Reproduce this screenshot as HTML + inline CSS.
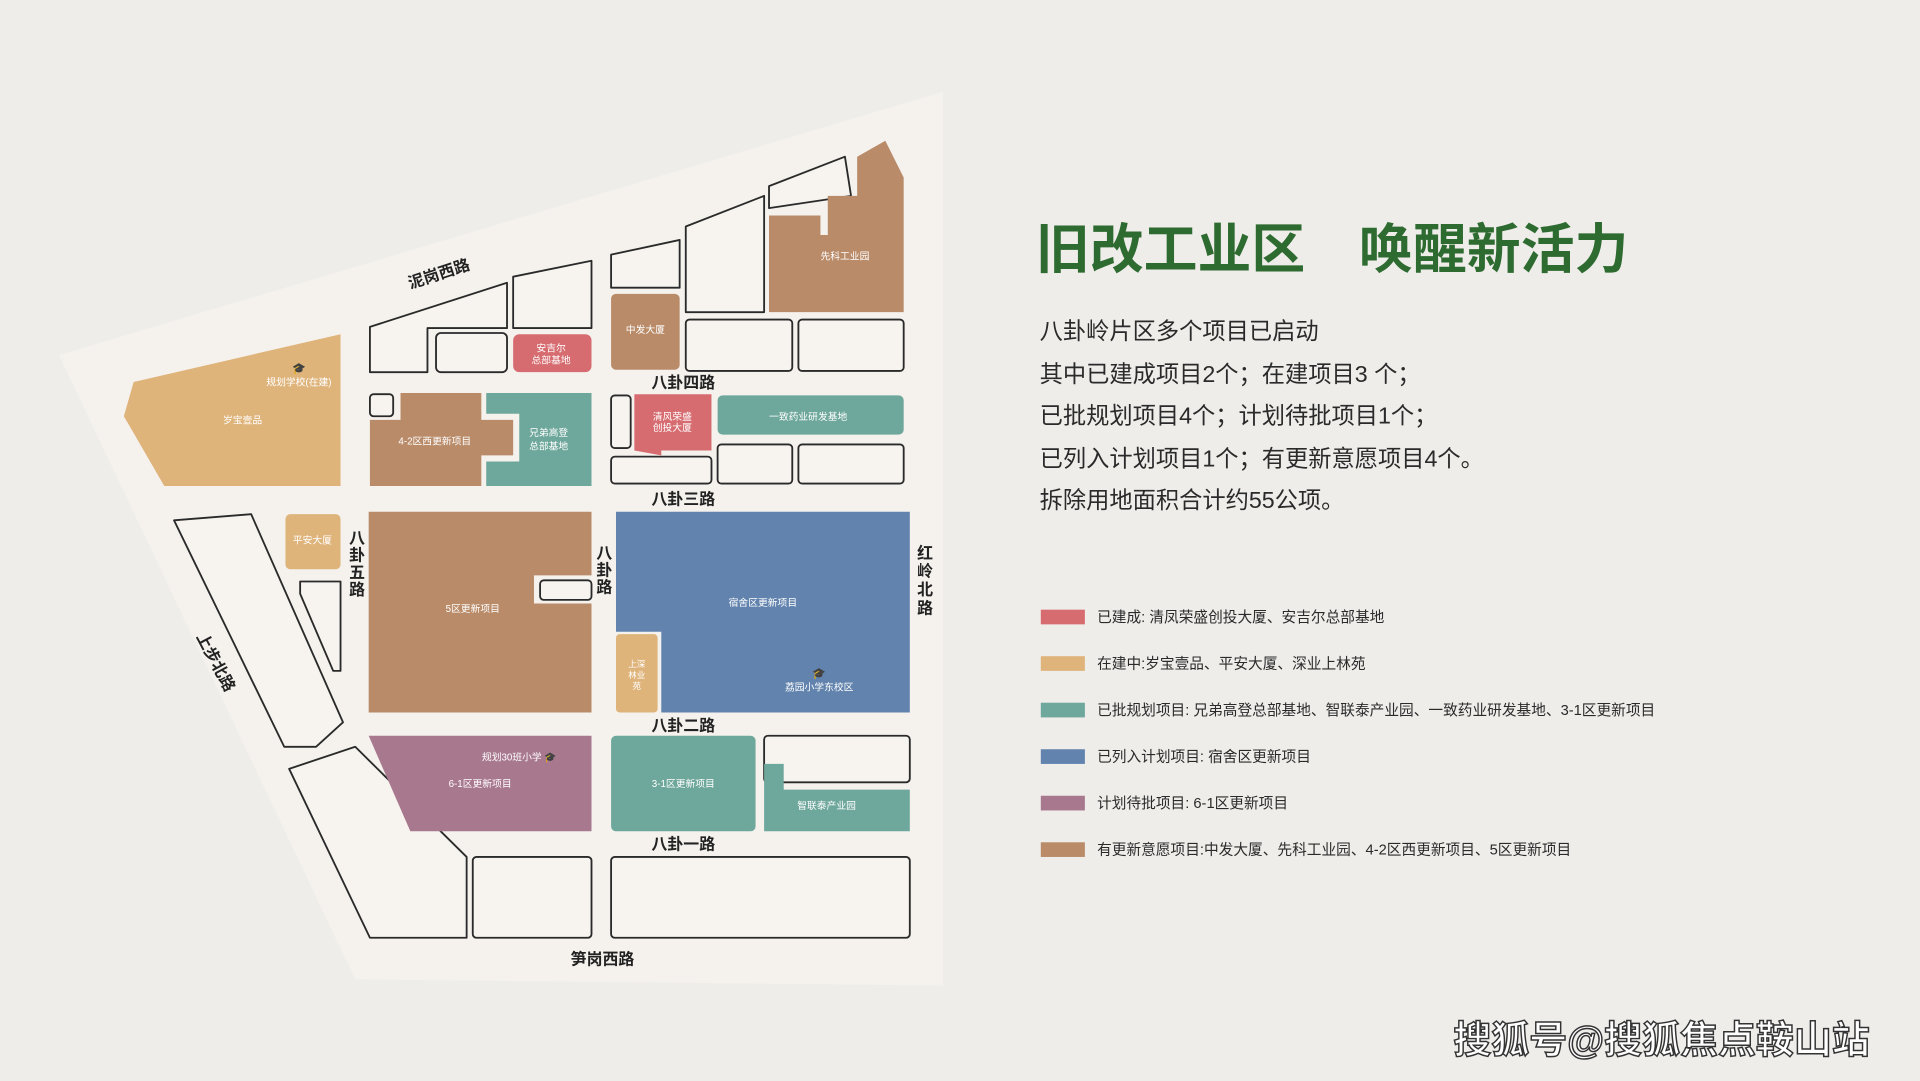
<!DOCTYPE html>
<html><head><meta charset="utf-8"><style>
html,body{margin:0;padding:0;background:#eeedea;}
svg{display:block;}
text{font-family:"Liberation Sans","Noto Sans CJK SC",sans-serif;}
</style></head><body>
<svg width="1920" height="1081" viewBox="0 0 1568 883" xmlns="http://www.w3.org/2000/svg">
<rect width="1568" height="883" fill="#eeedea"/>
<polygon points="48,290 770,75 770,805 290,800" fill="#f5f2ee"/>
<g fill="#f7f4f0" stroke="#2a2a2a" stroke-width="1.5" stroke-linejoin="round">
<polygon points="302,267 414,231 414,268 349,268 349,304 302,304"/>
<rect x="356" y="272" width="58" height="32" rx="4"/>
<polygon points="419,226 483,213 483,268 419,268"/>
<rect x="302" y="322" width="19" height="18" rx="3"/>
<rect x="499" y="323" width="16" height="43" rx="3"/>
<rect x="499" y="373" width="82" height="22" rx="3"/>
<rect x="586" y="363" width="61" height="32" rx="3"/>
<rect x="652" y="363" width="86" height="32" rx="3"/>
<polygon points="499,208 555,196 555,235 499,235"/>
<polygon points="560,185 624,160 624,255 560,255"/>
<polygon points="628,152 690,128 695,160 628,170"/>
<rect x="560" y="261" width="87" height="42" rx="3"/>
<rect x="652" y="261" width="86" height="42" rx="3"/>
<polygon points="142,425 205,420 280,590 258,610 232,610"/>
<polygon points="245,475 278,475 278,548 272,548 245,485"/>
<rect x="441" y="474" width="42" height="16" rx="3"/>
<polygon points="236,628 290,610 381,700 381,766 302,766"/>
<rect x="386" y="700" width="97" height="66" rx="3"/>
<rect x="499" y="700" width="244" height="66" rx="3"/>
<rect x="624" y="601" width="119" height="38" rx="3"/>
</g>
<polygon points="109,312 278,273 278,397 134,397 101,340" fill="#dfb47b"/>
<rect x="233" y="420" width="45" height="45" rx="4" fill="#dfb47b"/>
<rect x="419" y="273" width="64" height="31" rx="5" fill="#d76c70"/>
<polygon points="327,321 393,321 393,343 419,343 419,372 393,372 393,397 302,397 302,343 327,343" fill="#b98b69"/>
<polygon points="397,321 483,321 483,397 397,397 397,377 424,377 424,338 397,338" fill="#6ea79b"/>
<polygon points="518,322 581,322 581,368 540,368 540,372 518,368" fill="#d76c70"/>
<rect x="586" y="323" width="152" height="32" rx="4" fill="#6ea79b"/>
<rect x="499" y="240" width="56" height="62" rx="4" fill="#b98b69"/>
<polygon points="628,176 670,176 670,192 676,192 676,160 700,160 700,128 723,115 738,145 738,255 628,255" fill="#b98b69"/>
<polygon points="301,418 483,418 483,470 436,470 436,493 483,493 483,582 301,582" fill="#b98b69"/>
<polygon points="503,418 743,418 743,582 540,582 540,516 503,516" fill="#6183ad"/>
<rect x="503" y="518" width="34" height="64" rx="3" fill="#dfb47b"/>
<polygon points="301,601 483,601 483,679 335,679" fill="#a8788f"/>
<rect x="499" y="601" width="118" height="78" rx="4" fill="#6ea79b"/>
<polygon points="624,624 640,624 640,645 743,645 743,679 624,679" fill="#6ea79b"/>
<g fill="#fff" font-size="8" text-anchor="middle">
<text x="244" y="315">规划学校(在建)</text>
<text x="244" y="304" font-size="9">🎓</text>
<text x="198" y="346">岁宝壹品</text>
<text x="255" y="444">平安大厦</text>
<text x="450" y="287">安吉尔</text><text x="450" y="297">总部基地</text>
<text x="355" y="363">4-2区西更新项目</text>
<text x="448" y="356">兄弟高登</text><text x="448" y="367">总部基地</text>
<text x="549" y="343">清风荣盛</text><text x="549" y="352">创投大厦</text>
<text x="660" y="343">一致药业研发基地</text>
<text x="527" y="272">中发大厦</text>
<text x="690" y="212">先科工业园</text>
<text x="386" y="500">5区更新项目</text>
<text x="623" y="495">宿舍区更新项目</text>
<text x="669" y="564">荔园小学东校区</text>
<text x="669" y="553" font-size="9">🎓</text>
<text x="424" y="621">规划30班小学 🎓</text>
<text x="392" y="643">6-1区更新项目</text>
<text x="558" y="643">3-1区更新项目</text>
<text x="675" y="661">智联泰产业园</text>
<text x="520" y="545" font-size="7">上深</text><text x="520" y="554" font-size="7">林业</text><text x="520" y="563" font-size="7">苑</text>
</g>
<g fill="#222" font-size="13" font-weight="bold">
<text x="335" y="236" transform="rotate(-18 335 236)">泥岗西路</text>
<text x="532" y="317">八卦四路</text>
<text x="532" y="412">八卦三路</text>
<text x="532" y="597">八卦二路</text>
<text x="532" y="694">八卦一路</text>
<text x="466" y="788">笋岗西路</text>
<text x="285" y="444">八</text><text x="285" y="458">卦</text><text x="285" y="472">五</text><text x="285" y="486">路</text>
<text x="487" y="456">八</text><text x="487" y="470">卦</text><text x="487" y="484">路</text>
<text x="749" y="456">红</text><text x="749" y="471">岭</text><text x="749" y="486">北</text><text x="749" y="501">路</text>
<text x="160" y="520" transform="rotate(62 160 520)">上步北路</text>
</g>
<text x="846" y="219" font-size="44" font-weight="bold" fill="#2e6b30">旧改工业区　唤醒新活力</text>
<g font-size="19" fill="#2a2a2a">
<text x="849" y="277">八卦岭片区多个项目已启动</text>
<text x="849" y="312">其中已建成项目2个；在建项目3 个；</text>
<text x="849" y="346">已批规划项目4个；计划待批项目1个；</text>
<text x="849" y="381">已列入计划项目1个；有更新意愿项目4个。</text>
<text x="849" y="415">拆除用地面积合计约55公项。</text>
</g>
<g font-size="12" fill="#2a2a2a">
<rect x="850" y="498" width="36" height="12" fill="#d76c70"/><text x="896" y="508">已建成: 清凤荣盛创投大厦、安吉尔总部基地</text>
<rect x="850" y="536" width="36" height="12" fill="#dfb47b"/><text x="896" y="546">在建中:岁宝壹品、平安大厦、深业上林苑</text>
<rect x="850" y="574" width="36" height="12" fill="#6ea79b"/><text x="896" y="584">已批规划项目: 兄弟高登总部基地、智联泰产业园、一致药业研发基地、3-1区更新项目</text>
<rect x="850" y="612" width="36" height="12" fill="#6183ad"/><text x="896" y="622">已列入计划项目: 宿舍区更新项目</text>
<rect x="850" y="650" width="36" height="12" fill="#a8788f"/><text x="896" y="660">计划待批项目: 6-1区更新项目</text>
<rect x="850" y="688" width="36" height="12" fill="#b98b69"/><text x="896" y="698">有更新意愿项目:中发大厦、先科工业园、4-2区西更新项目、5区更新项目</text>
</g>
<text x="1187" y="860" font-size="31" fill="#fff" stroke="#333" stroke-width="1.2" font-weight="bold">搜狐号@搜狐焦点鞍山站</text>
</svg>
</body></html>
